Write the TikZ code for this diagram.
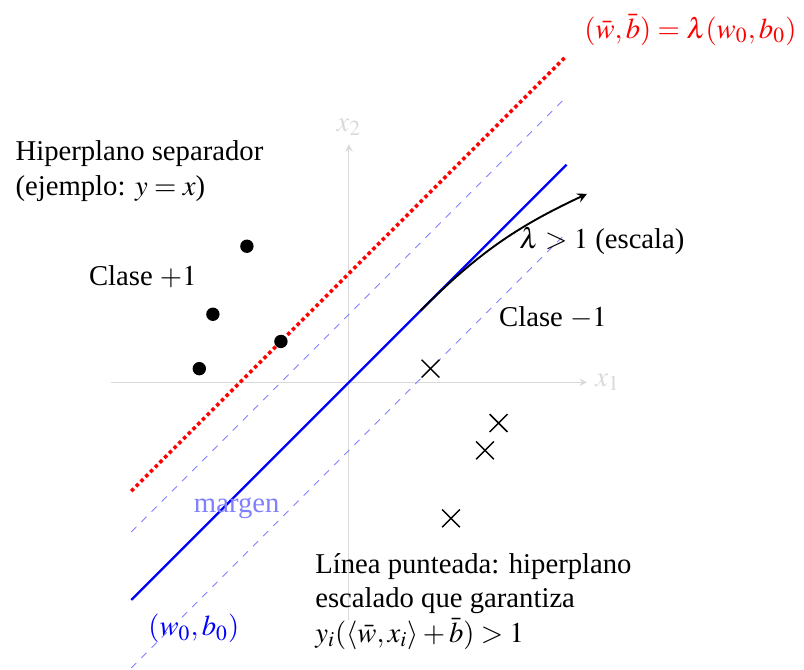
\documentclass[tikz,border=0pt]{standalone}
\usepackage{mathptmx}
\usepackage[no-math]{fontspec}
\setmainfont{Liberation Serif}
\usetikzlibrary{arrows,shapes.misc}
\begin{document}
\begin{tikzpicture}[
  font=\fontsize{12}{14.5}\selectfont,
  axis/.style={gray!30, thin, -stealth},
  sep/.style={blue, line width=0.95pt},
  marg/.style={blue!50, thin, dashed},
  scaled/.style={red, line width=1.5pt, dash pattern=on 1.5pt off 1.3pt},
  posdot/.style={circle, fill=black, inner sep=0pt, minimum size=5.6pt},
  negc/.style={cross out, draw=black, semithick, inner sep=0pt, minimum size=0.24cm},
]
\useasboundingbox (-5.13,-4.22) rectangle (6.69,5.62);
% axes
\coordinate (xl) at (-3.5,0);
\coordinate (xr) at (3.5,0);
\coordinate (yb) at (0,-3.5);
\coordinate (yt) at (0,3.5);
\draw[axis] (xl) -- (xr) node[right, gray!30] {$x_1$};
\draw[axis] (yb) -- (yt) node[above, gray!30] {$x_2$};
% margin lines
\coordinate (mu1) at (-3.2,-2.2);
\coordinate (mu2) at (3.2,4.2);
\coordinate (ml1) at (-3.2,-4.2);
\coordinate (ml2) at (3.2,2.2);
\draw[marg] (mu1) -- (mu2);
\draw[marg] (ml1) -- (ml2);
% separating hyperplane
\coordinate (s1) at (-3.2,-3.2);
\coordinate (s2) at (3.2,3.2);
\draw[sep] (s1) -- (s2);
% scaled hyperplane
\coordinate (r1) at (-3.2,-1.6);
\coordinate (r2) at (3.2,4.8);
\draw[scaled] (r1) -- (r2);
% points
\node[posdot] (p1) at (-1.5,2) {};
\node[posdot] (p2) at (-2,1) {};
\node[posdot] (p3) at (-2.2,0.2) {};
\node[posdot] (p4) at (-1,0.6) {};
\node[negc] (n1) at (1.2,0.2) {};
\node[negc] (n2) at (2.2,-0.6) {};
\node[negc] (n3) at (2,-1) {};
\node[negc] (n4) at (1.5,-2) {};
% scaling arrow
\coordinate (a1) at (1.05,1.05);
\coordinate (a2) at (3.5,2.77);
\draw[black, thick, -stealth] (a1) to[out=45, in=205] (a2);
% labels
\node (lam) at (3.72,2.08) {$\lambda > 1$ (escala)};
\node (cm) at (3.0,0.95) {Clase $-1$};
\node (cp) at (-3.03,1.55) {Clase $+1$};
\node[align=left] (hs) at (-3.08,3.1) {Hiperplano separador\\(ejemplo: $y = x$)};
\node[blue!50] (mg) at (-1.65,-1.85) {margen};
\node[blue] (w0) at (-2.28,-3.62) {$(w_0, b_0)$};
\node[red] (wb) at (5.02,5.18) {$(\bar{w}, \bar{b}) = \lambda(w_0, b_0)$};
\node[align=left] (note) at (1.83,-3.22) {L\'inea punteada: hiperplano\\escalado que garantiza\\$y_i(\langle \bar{w}, x_i\rangle + \bar{b}) > 1$};
\end{tikzpicture}
\end{document}
